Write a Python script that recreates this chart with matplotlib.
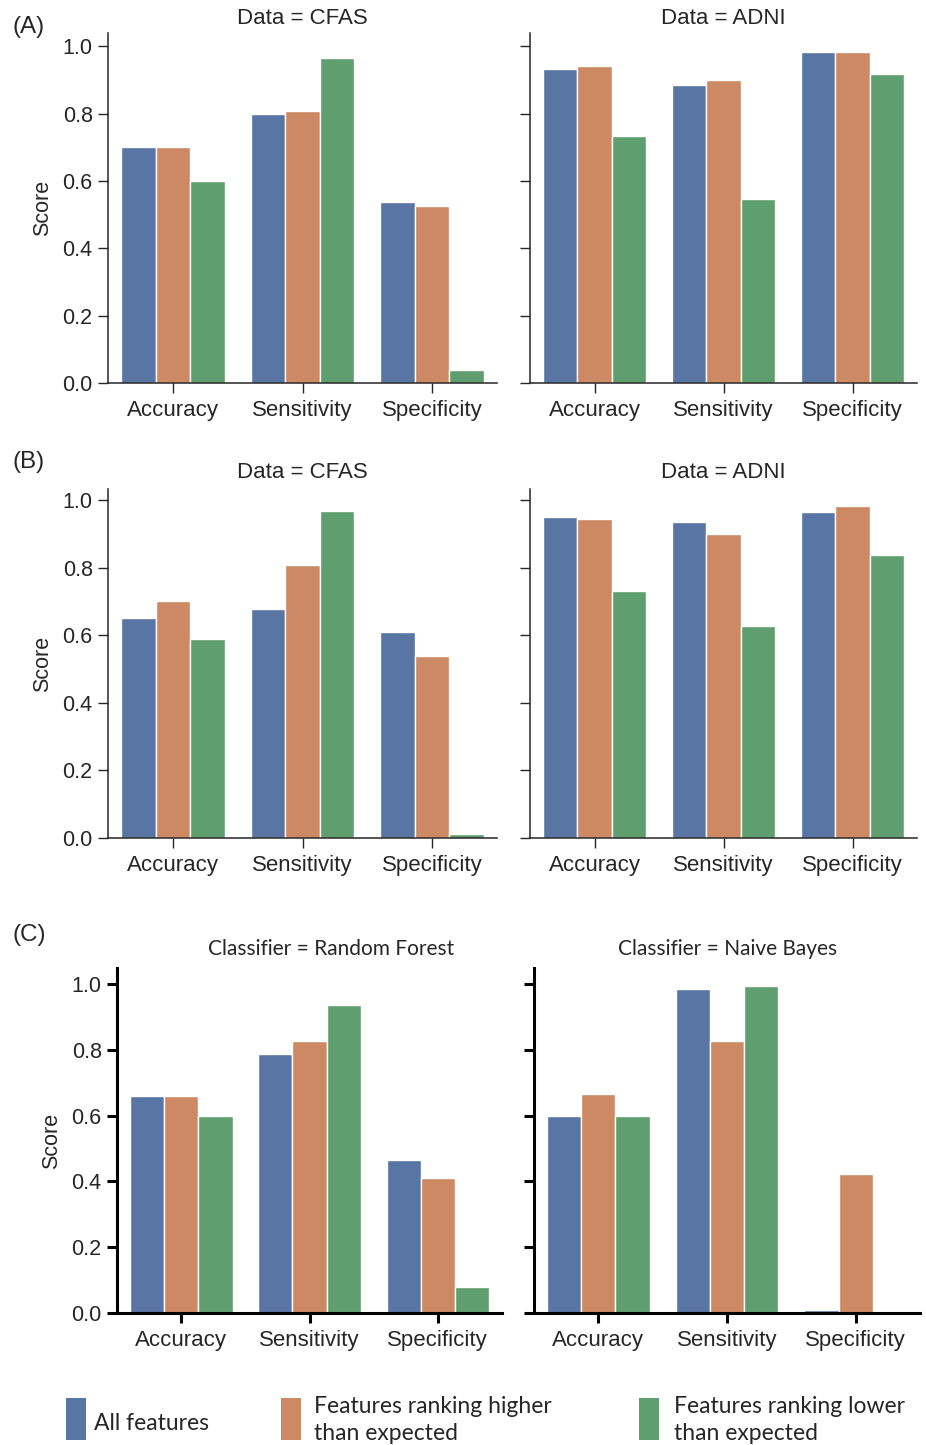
import numpy as np
import matplotlib
matplotlib.use("Agg")
import matplotlib.pyplot as plt
from matplotlib.patches import Rectangle

# ---------------- data ----------------
metrics = ["Accuracy", "Sensitivity", "Specificity"]
series_names = ["All features",
                "Features ranking higher\nthan expected",
                "Features ranking lower\nthan expected"]

# (A)
a_cfas_all = [0.70, 0.80, 0.538]
a_cfas_high = [0.70, 0.808, 0.524]
a_cfas_low = [0.600, 0.966, 0.039]
a_adni_all = [0.933, 0.884, 0.982]
a_adni_high = [0.942, 0.900, 0.982]
a_adni_low = [0.732, 0.545, 0.917]

# (B)
b_cfas_all = [0.652, 0.678, 0.610]
b_cfas_high = [0.702, 0.809, 0.539]
b_cfas_low = [0.589, 0.967, 0.011]
b_adni_all = [0.951, 0.934, 0.966]
b_adni_high = [0.943, 0.901, 0.982]
b_adni_low = [0.732, 0.627, 0.837]

# (C)
c_rf_all = [0.661, 0.788, 0.466]
c_rf_high = [0.661, 0.826, 0.409]
c_rf_low = [0.598, 0.937, 0.080]
c_nb_all = [0.598, 0.985, 0.009]
c_nb_high = [0.666, 0.826, 0.422]
c_nb_low = [0.598, 0.993, 0.0]

yticks = [0.0, 0.2, 0.4, 0.6, 0.8, 1.0]
ytick_labels = ["0.0", "0.2", "0.4", "0.6", "0.8", "1.0"]

colors = ["#5975a4", "#cc8963", "#5f9e6e"]

# ---------------- figure ----------------
W, H = 926, 1445
fig = plt.figure(figsize=(W / 100, H / 100), dpi=100)
fig.patch.set_facecolor("white")

ARIAL = ["Liberation Sans", "DejaVu Sans"]
MYRIAD = ["Lato", "DejaVu Sans"]
TXT = "#262626"


def rect(x0, x1, ytop, ybot):
    return [x0 / W, 1 - ybot / H, (x1 - x0) / W, (ybot - ytop) / H]


def draw_panel(box, data, ylim_top, title, title_font, title_x=None, title_y=None,
               show_ylabels=True, spine_lw=1.1, spine_color=TXT, tick_w=1.0):
    ax = fig.add_axes(rect(*box))
    x = np.arange(len(metrics))
    w = 0.8 / 3
    for i, vals in enumerate(data):
        ax.bar(x + (i - 1) * w, vals, width=w, color=colors[i],
               edgecolor="white", linewidth=1.0)
    ax.set_xlim(-0.5, 2.5)
    ax.set_ylim(0, ylim_top)
    ax.set_xticks(x)
    ax.set_xticklabels(metrics, fontsize=16, family=ARIAL, color=TXT)
    ax.set_yticks(yticks)
    if show_ylabels:
        ax.set_yticklabels(ytick_labels, fontsize=15.5, family=ARIAL, color=TXT)
        ax.set_ylabel("Score", fontsize=15.5, family=ARIAL, color=TXT, labelpad=7)
    else:
        ax.set_yticklabels([])
    for s in ["top", "right"]:
        ax.spines[s].set_visible(False)
    for s in ["left", "bottom"]:
        ax.spines[s].set_linewidth(spine_lw)
        ax.spines[s].set_color(spine_color)
    ax.tick_params(axis="both", length=7, width=tick_w, color=spine_color)
    ax.tick_params(axis="y", pad=4)
    ax.tick_params(axis="x", pad=5)
    bx0, bx1, bt, bb = box
    tx = (bx0 + bx1) / 2 if title_x is None else title_x
    fig.text(tx / W, 1 - title_y / H, title, ha="center", va="center",
             fontsize=title_font[1], family=title_font[0], color=TXT)
    return ax


A_top, A_bot = 33, 383
B_top, B_bot = 489, 838
C_top, C_bot = 968, 1313

tf_ab = (ARIAL, 16)
tf_c = (MYRIAD, 15)

draw_panel((108, 497, A_top, A_bot), [a_cfas_all, a_cfas_high, a_cfas_low], 1.039,
           "Data = CFAS", tf_ab, title_y=18)
draw_panel((530, 917, A_top, A_bot), [a_adni_all, a_adni_high, a_adni_low], 1.039,
           "Data = ADNI", tf_ab, title_y=18, show_ylabels=False)
draw_panel((108, 497, B_top, B_bot), [b_cfas_all, b_cfas_high, b_cfas_low], 1.033,
           "Data = CFAS", tf_ab, title_y=472)
draw_panel((530, 917, B_top, B_bot), [b_adni_all, b_adni_high, b_adni_low], 1.033,
           "Data = ADNI", tf_ab, title_y=472, show_ylabels=False)
draw_panel((117, 502, C_top, C_bot), [c_rf_all, c_rf_high, c_rf_low], 1.049,
           "Classifier = Random Forest", tf_c, title_x=331, title_y=949,
           spine_lw=2.2, spine_color="black", tick_w=2.2)
draw_panel((534, 920, C_top, C_bot), [c_nb_all, c_nb_high, c_nb_low], 1.049,
           "Classifier = Naive Bayes", tf_c, title_x=728, title_y=949,
           show_ylabels=False, spine_lw=2.2, spine_color="black", tick_w=2.2)

# panel letters
for lbl, yy in [("(A)", 27), ("(B)", 462), ("(C)", 935)]:
    fig.text(12 / W, 1 - yy / H, lbl, ha="left", va="center", fontsize=17.5,
             family=ARIAL, color=TXT)

# legend (manual placement)
patch_x = [66, 281, 639]
text_x = [94, 314, 674]
text_y = [1423, 1420, 1420]
for i in range(3):
    fig.add_artist(Rectangle((patch_x[i] / W, 1 - 1440 / H), 20 / W, 42 / H,
                             transform=fig.transFigure, facecolor=colors[i],
                             edgecolor="none"))
    fig.text(text_x[i] / W, 1 - text_y[i] / H, series_names[i], ha="left",
             va="center", fontsize=16.5, family=MYRIAD, color=TXT,
             linespacing=1.38)

fig.savefig("out.png", dpi=100, facecolor="white")
